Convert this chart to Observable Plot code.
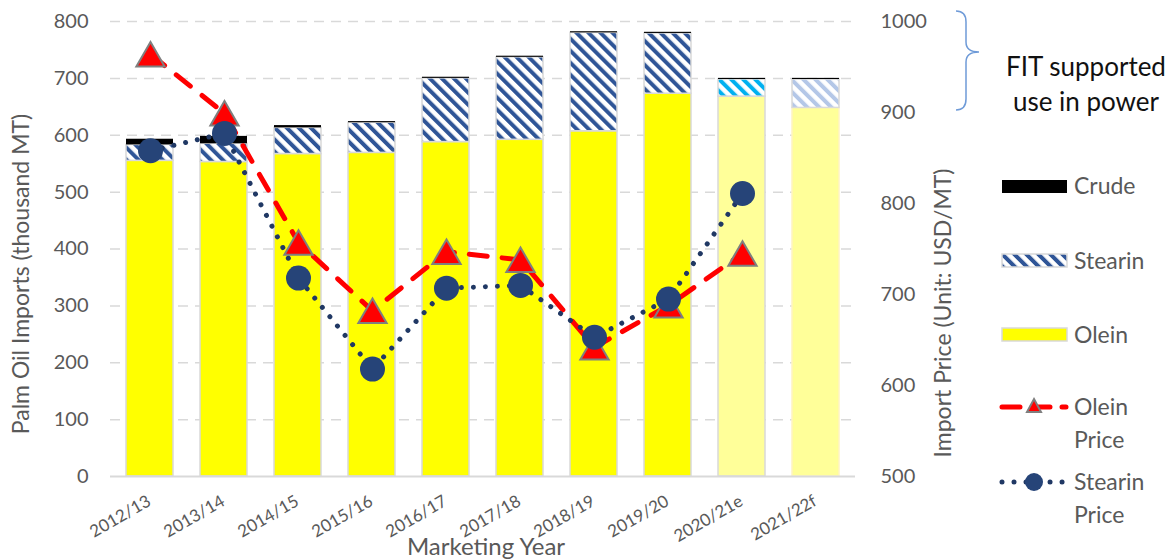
<!DOCTYPE html>
<html><head><meta charset="utf-8">
<script src="https://cdn.jsdelivr.net/npm/d3@7"></script>
<script src="https://cdn.jsdelivr.net/npm/@observablehq/plot@0.6"></script>
<style>
body{margin:0;background:#fff;}
#wrap{position:relative;width:1168px;height:560px;overflow:hidden;font-family:Lato,sans-serif;background:#fff;}
#wrap > div, #wrap > svg{position:absolute;left:0;top:0;}
</style></head><body>
<div id="wrap">
<svg width="0" height="0" style="position:absolute">
  <defs>
    <pattern id="hatchBlue" patternUnits="userSpaceOnUse" width="8.5" height="8.5" patternTransform="rotate(-45)">
      <rect width="8.5" height="8.5" fill="#ffffff"/><rect width="4" height="8.5" fill="#2F5597"/>
    </pattern>
    <pattern id="hatchCyan" patternUnits="userSpaceOnUse" width="8.5" height="8.5" patternTransform="rotate(-45)">
      <rect width="8.5" height="8.5" fill="#ffffff"/><rect width="4" height="8.5" fill="#00B0F0"/>
    </pattern>
    <pattern id="hatchLight" patternUnits="userSpaceOnUse" width="8.5" height="8.5" patternTransform="rotate(-45)">
      <rect width="8.5" height="8.5" fill="#ffffff"/><rect width="4" height="8.5" fill="#B4C7E7"/>
    </pattern>
  </defs>
</svg>
<div id="bars"></div>
<div id="prices"></div>
<svg id="deco" width="1168" height="560" style="font-family:Lato,sans-serif">
  <text transform="translate(23,274) rotate(-90)" text-anchor="middle" dominant-baseline="middle" font-size="23" fill="#595959">Palm Oil Imports (thousand MT)</text>
  <text transform="translate(945,313) rotate(-90)" text-anchor="middle" dominant-baseline="middle" font-size="23" fill="#595959">Import Price (Unit: USD/MT)</text>
  <text x="486" y="555" text-anchor="middle" font-size="24" fill="#595959">Marketing Year</text>
  <path d="M956,11 Q966,11 966,22 L966,42 Q966,52 979,52 Q966,52 966,62 L966,99 Q966,110 956,110" fill="none" stroke="#6F9BD8" stroke-width="1.5"/>
  <text x="1086" y="76" text-anchor="middle" font-size="26" fill="#111">FIT supported</text>
  <text x="1086" y="111" text-anchor="middle" font-size="26" fill="#111">use in power</text>
  <g font-size="23" fill="#595959">
    <rect x="1002" y="180" width="65" height="13" fill="#000"/>
    <text x="1074" y="194">Crude</text>
    <rect x="1002" y="254" width="65" height="13" fill="url(#hatchBlue)" stroke="#d9d9d9" stroke-width="1.5"/>
    <text x="1074" y="269">Stearin</text>
    <rect x="1002" y="328" width="65" height="13" fill="#FFFF00" stroke="#d9d9d9" stroke-width="1.5"/>
    <text x="1074" y="343">Olein</text>
    <line x1="1002" y1="407" x2="1066" y2="407" stroke="#FF0000" stroke-width="5" stroke-dasharray="18,12" stroke-linecap="round"/>
    <path d="M1034,399 L1041,412 L1027,412 Z" fill="#FF0000" stroke="#7F7F7F" stroke-width="2"/>
    <text x="1074" y="415">Olein</text>
    <text x="1074" y="448">Price</text>
    <line x1="1002" y1="482" x2="1066" y2="482" stroke="#203864" stroke-width="5" stroke-dasharray="0.01,12" stroke-linecap="round"/>
    <circle cx="1034" cy="482" r="9" fill="#264478"/>
    <text x="1074" y="490">Stearin</text>
    <text x="1074" y="523">Price</text>
  </g>
</svg>
</div>
<script>
// ---- data ----
const years = ["2012/13","2013/14","2014/15","2015/16","2016/17","2017/18","2018/19","2019/20","2020/21e","2021/22f"];
const olein   = [555, 553, 567, 569, 588, 592, 607, 673, 668, 648];
const stearin = [28, 32, 46, 53, 112, 145, 173, 106, 30, 50];
const crude   = [10, 13, 4, 2, 2, 2, 2, 2, 2, 2];
const oleinPrice   = [964, 899, 757, 682, 747, 738, 642, 688, 745, null];
const stearinPrice = [858, 877, 718, 618, 707, 710, 653, 695, 811, null];
const leftTicks  = [0, 100, 200, 300, 400, 500, 600, 700, 800];
const rightTicks = [500, 600, 700, 800, 900, 1000];

// ---- styles ----
const projFill = {
  "2020/21e": {Olein: "#FFFF99", Stearin: "url(#hatchCyan)"},
  "2021/22f": {Olein: "#FFFF99", Stearin: "url(#hatchLight)"}
};
const baseFill = {Olein: "#FFFF00", Stearin: "url(#hatchBlue)", Crude: "#000000"};
const fillFor = d => (projFill[d.year] && projFill[d.year][d.type]) || baseFill[d.type];
const strokeFor = d => d.type === "Crude" ? "none" : (d.year === "2021/22f" && d.type === "Olein" ? "#FFF4C2" : "#D9D9D9");

const stacked = [];
years.forEach((y, i) => {
  stacked.push({year: y, type: "Olein", value: olein[i]});
  stacked.push({year: y, type: "Stearin", value: stearin[i]});
  stacked.push({year: y, type: "Crude", value: crude[i]});
});
const priceO = years.map((y, i) => ({year: y, price: oleinPrice[i]})).filter(d => d.price != null);
const priceS = years.map((y, i) => ({year: y, price: stearinPrice[i]})).filter(d => d.price != null);

const W = 1168, H = 560;
const frame = {width: W, height: H, marginLeft: 110, marginRight: 313, marginTop: 21, marginBottom: 84};
const xOpts = {domain: years, paddingInner: 0.36, paddingOuter: 0.18};
const style = {background: "transparent", fontFamily: "Lato, sans-serif", overflow: "visible"};

const barsPlot = Plot.plot({
  ...frame, style,
  x: {...xOpts, axis: null},
  y: {domain: [0, 800], label: null},
  color: {type: "identity"},
  marks: [
    Plot.gridY(leftTicks.filter(t => t > 0), {stroke: "#D9D9D9", strokeOpacity: 1, strokeWidth: 1.5, strokeDasharray: "10,7"}),
    Plot.barY(stacked, {x: "year", y: "value", fill: fillFor, stroke: strokeFor, strokeWidth: 1.5}),
    Plot.ruleY([0], {stroke: "#D9D9D9", strokeWidth: 2}),
    Plot.axisY(leftTicks, {tickSize: 0, tickPadding: 22, fontSize: 20, color: "#595959", label: null}),
    // x tick labels, positioned by the x band scale
    Plot.text(years, {x: d => d, text: d => d, frameAnchor: "bottom", dx: 2, dy: 28, rotate: -30, textAnchor: "end", fontSize: 17, fill: "#595959"})
  ]
});
document.getElementById("bars").appendChild(barsPlot);

const pricePlot = Plot.plot({
  ...frame, style,
  x: {...xOpts, axis: null},
  y: {domain: [500, 1000], axis: null},
  marks: [
    Plot.line(priceO, {x: "year", y: "price", stroke: "#FF0000", strokeWidth: 5, strokeDasharray: "18,15", strokeLinecap: "round"}),
    Plot.dot(priceO, {x: "year", y: "price", symbol: "triangle", r: 10.5, dy: 4, fill: "#FF0000", stroke: "#7F7F7F", strokeWidth: 2}),
    Plot.line(priceS, {x: "year", y: "price", stroke: "#203864", strokeWidth: 5, strokeDasharray: "0.01,12", strokeLinecap: "round"}),
    Plot.dot(priceS, {x: "year", y: "price", r: 12.5, fill: "#264478", stroke: "none"}),
    Plot.axisY(rightTicks, {anchor: "right", tickSize: 0, tickPadding: 25, fontSize: 20, color: "#595959", label: null, tickFormat: d => String(d)})
  ]
});
document.getElementById("prices").appendChild(pricePlot);
</script>
</body></html>
